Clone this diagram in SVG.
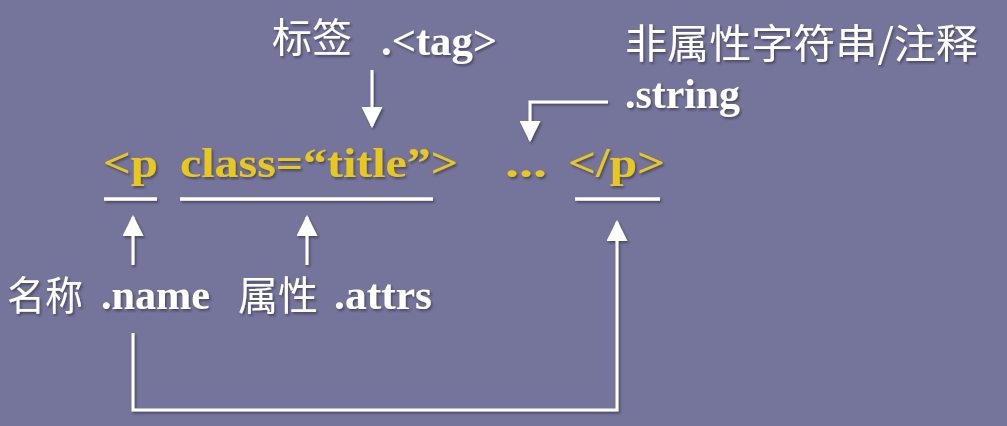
<svg xmlns="http://www.w3.org/2000/svg" width="1007" height="426" viewBox="0 0 1007 426">
<defs>
<style>
.cn{font-family:"Noto Sans CJK SC","Noto Sans",sans-serif;font-size:40px;fill:#ffffff}
.en{font-family:"Liberation Serif",serif;font-weight:bold;font-size:42px;fill:#ffffff}
.code{font-family:"Liberation Serif",serif;font-weight:bold;font-size:42px;fill:#e8c81c}
.ln{stroke:#ffffff;stroke-width:3;fill:none}
.ul{stroke:#ffffff;stroke-width:3.5;fill:none}
</style>
<marker id="ah" viewBox="0 0 10 10" refX="9" refY="5" markerWidth="7" markerHeight="7" orient="auto" markerUnits="strokeWidth">
<path d="M0,0 L10,5 L0,10 z" fill="#ffffff"/>
</marker>
<filter id="sh" x="-10%" y="-20%" width="120%" height="150%">
<feDropShadow dx="1.5" dy="2" stdDeviation="1" flood-color="#2a2940" flood-opacity="0.6"/>
</filter>
</defs>
<rect width="1007" height="426" fill="#75749b"/>
<g filter="url(#sh)">
<g id="tag-label">
<text class="cn" x="272" y="52">标签</text>
<text class="en" x="381" y="55" textLength="116" lengthAdjust="spacingAndGlyphs">.&lt;tag&gt;</text>
</g>
<g id="string-label">
<text class="cn" x="625" y="58" textLength="353" lengthAdjust="spacingAndGlyphs">非属性字符串/注释</text>
<text class="en" x="625" y="108" textLength="115" lengthAdjust="spacingAndGlyphs">.string</text>
</g>
<g id="code">
<text class="code" x="103" y="177" textLength="55" lengthAdjust="spacingAndGlyphs">&lt;p</text>
<text class="code" x="180" y="177" textLength="278" lengthAdjust="spacingAndGlyphs">class=“title”&gt;</text>
<text class="code" x="505" y="177" textLength="42" lengthAdjust="spacingAndGlyphs">...</text>
<text class="code" x="568" y="177" textLength="97" lengthAdjust="spacingAndGlyphs">&lt;/p&gt;</text>
</g>
<g id="name-label">
<text class="cn" x="7" y="310" textLength="76" lengthAdjust="spacingAndGlyphs">名称</text>
<text class="en" x="101" y="309" textLength="109" lengthAdjust="spacingAndGlyphs">.name</text>
</g>
<g id="attrs-label">
<text class="cn" x="238" y="310">属性</text>
<text class="en" x="334" y="309" textLength="98" lengthAdjust="spacingAndGlyphs">.attrs</text>
</g>
<g id="underlines">
<line class="ul" x1="104" y1="199" x2="157" y2="199"/>
<line class="ul" x1="180" y1="199" x2="433" y2="199"/>
<line class="ul" x1="575" y1="199" x2="660" y2="199"/>
</g>
<g id="connectors">
<path class="ln" d="M372,70 L372,126" marker-end="url(#ah)"/>
<path class="ln" d="M608,102 L530,102 L530,140" marker-end="url(#ah)"/>
<path class="ln" d="M133,265 L133,217" marker-end="url(#ah)"/>
<path class="ln" d="M307,265 L307,217" marker-end="url(#ah)"/>
<path class="ln" d="M133,333 L133,410 L617,410 L617,222" marker-end="url(#ah)"/>
</g>
</g>
</svg>
